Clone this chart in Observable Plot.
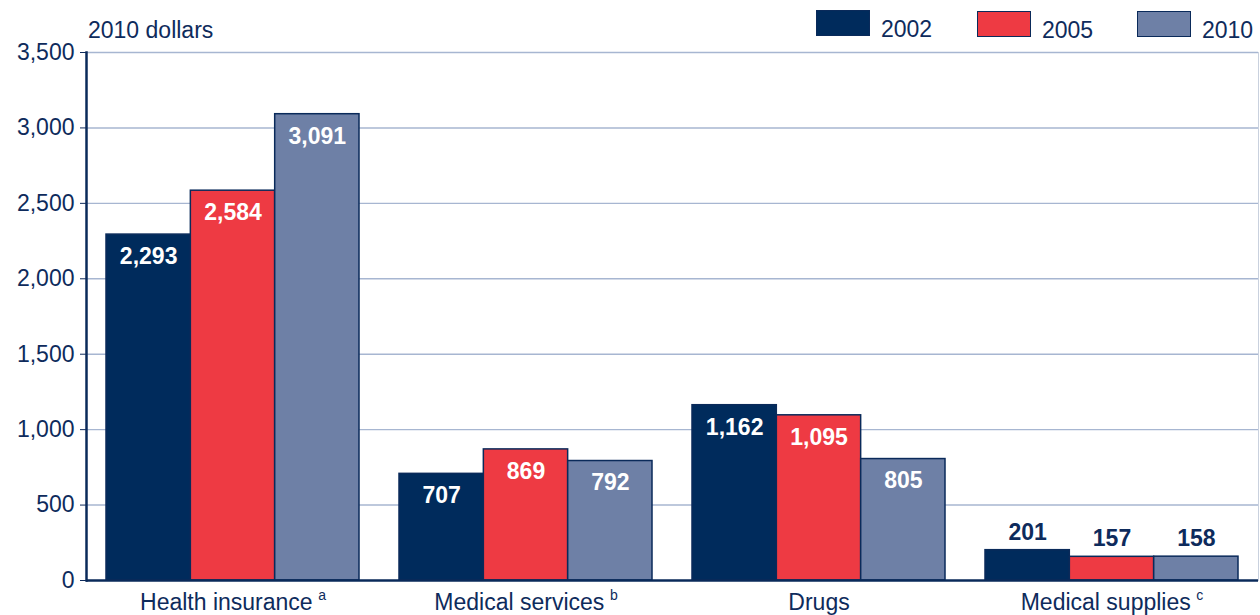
<!DOCTYPE html>
<html><head><meta charset="utf-8">
<script src="https://cdn.jsdelivr.net/npm/d3@7"></script>
<script src="https://cdn.jsdelivr.net/npm/@observablehq/plot@0.6"></script>
<style>
body{margin:0;background:#fff;font-family:"Liberation Sans",Arial,sans-serif;color:#0e2b5c;}
#wrap{position:relative;width:1260px;height:615px;overflow:hidden;}
.sw{position:absolute;width:54px;height:26px;box-sizing:border-box;border:1px solid #0a2a5a;}
.lt{position:absolute;font-size:23px;line-height:1;color:#0e2b5c;}
</style></head>
<body><div id="wrap"></div>
<script>
const categories = ["Health insurance","Medical services","Drugs","Medical supplies"];
const footnotes = ["a","b","","c"];
const years = ["2002","2005","2010"];
const values2002 = [2293,707,1162,201];
const values2005 = [2584,869,1095,157];
const values2010 = [3091,792,805,158];
const yTicks = [0,500,1000,1500,2000,2500,3000,3500];
const colors = ["#002b5c","#ee3a43","#6e80a6"];
const unitLabel = "2010 dollars";

const seriesValues = [values2002, values2005, values2010];
const rows = [];
years.forEach((yr, i) => categories.forEach((c, j) => rows.push({year: yr, yi: i, category: c, value: seriesValues[i][j]})));

const W = 1260, H = 615, mL = 86, mR = 2, mT = 52, mB = 35;
const pIn = 0.1365, pOut = 0.068;
const step = (W - mL - mR) / (categories.length - pIn + 2 * pOut);
const bw = step * (1 - pIn);
const sub = bw / years.length;
const navy = "#0e2b5c";
const fmt = d3.format(",");

const marks = [
  Plot.ruleY(yTicks.filter(d => d > 0), {stroke: "#a7b6d1", strokeWidth: 1.4}),
  Plot.frame({anchor: "right", stroke: "#c9d1de", strokeWidth: 1}),
];
years.forEach((yr, i) => {
  const data = rows.filter(r => r.yi === i);
  marks.push(Plot.barY(data, {
    x: "category", y: "value", fill: colors[i], stroke: "#0a2a5a", strokeWidth: 1.5,
    insetLeft: i * sub, insetRight: (years.length - 1 - i) * sub
  }));
});
years.forEach((yr, i) => {
  const data = rows.filter(r => r.yi === i);
  const inside = data.filter(d => d.value > 400), above = data.filter(d => d.value <= 400);
  const common = {x: "category", y: "value", text: d => fmt(d.value), dx: (i - 1) * sub,
    fontSize: 23, fontWeight: "bold"};
  marks.push(Plot.text(inside, {...common, dy: 22, fill: "white"}));
  marks.push(Plot.text(above, {...common, dy: -18, fill: navy}));
});
marks.push(Plot.ruleY([0], {stroke: "#0a2a5a", strokeWidth: 2.5}));
marks.push(Plot.frame({anchor: "left", stroke: "#0a2a5a", strokeWidth: 2.5}));
marks.push(Plot.axisY(yTicks, {tickFormat: fmt, tickSize: 6, tickPadding: 6, fontSize: 23, color: navy, stroke: navy, label: null}));
marks.push(Plot.axisX({tickSize: 0, tickPadding: 13, fontSize: 23, color: navy, label: null}));

const chart = Plot.plot({
  width: W, height: H, marginLeft: mL, marginRight: mR, marginTop: mT, marginBottom: mB,
  style: {fontFamily: '"Liberation Sans", Arial, sans-serif', color: navy, background: "white", overflow: "visible"},
  x: {type: "band", domain: categories, paddingInner: pIn, paddingOuter: pOut, align: 0.5},
  y: {domain: [0, 3500]},
  marks
});

// superscript footnote markers on category labels
d3.select(chart).selectAll('g[aria-label="x-axis tick label"] text').each(function() {
  const t = d3.select(this);
  const name = t.text();
  const k = categories.indexOf(name);
  if (k >= 0 && footnotes[k]) {
    t.append("tspan").text(" ").attr("font-size", 20);
    t.append("tspan").text(footnotes[k]).attr("font-size", 14).attr("dy", "-0.7em");
  }
});

const wrap = document.getElementById("wrap");
wrap.appendChild(chart);

function addDiv(cls, style, text) {
  const d = document.createElement("div");
  d.className = cls;
  Object.assign(d.style, style);
  if (text) d.textContent = text;
  wrap.appendChild(d);
}
addDiv("lt", {left: "88px", top: "19px"}, unitLabel);
const legendX = [816, 977, 1137];
const legendY = [10, 11, 11];
years.forEach((yr, i) => {
  addDiv("sw", {left: legendX[i] + "px", top: legendY[i] + "px", background: colors[i]});
  addDiv("lt", {left: (legendX[i] + 65) + "px", top: (legendY[i] + 8) + "px"}, yr);
});
</script></body></html>
